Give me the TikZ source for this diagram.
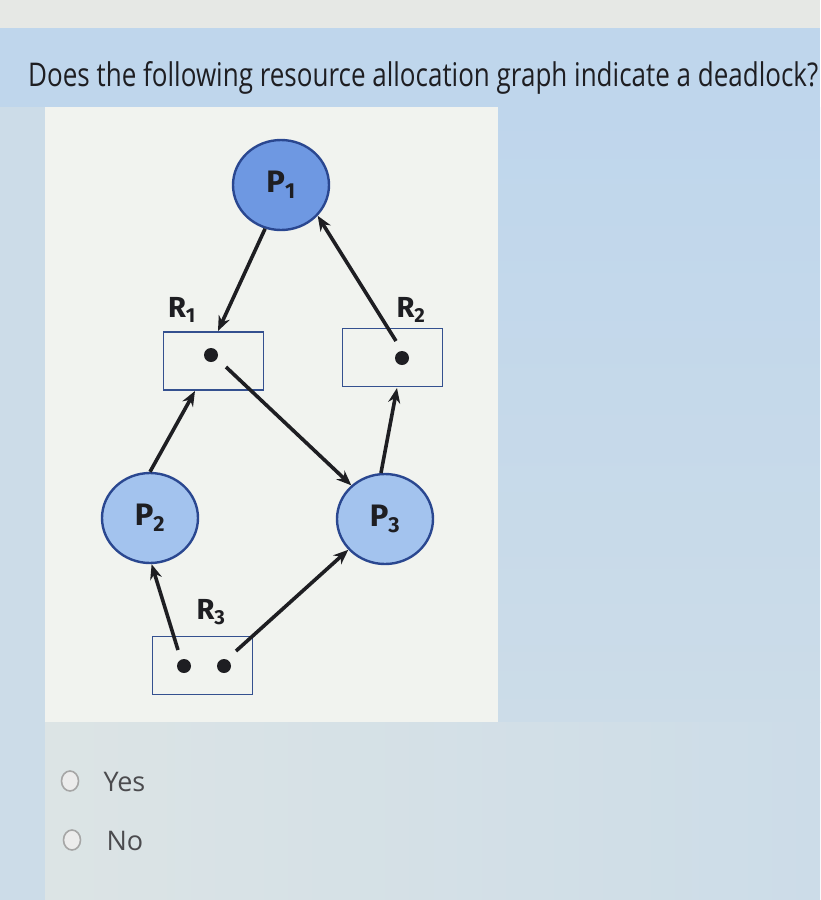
\documentclass[tikz,border=0pt]{standalone}
\usepackage{fontspec}
\usepackage{graphicx}
\setmainfont{Open Sans}
\newfontfamily\labfont{Fira Sans}
\usetikzlibrary{arrows.meta,shapes.geometric}
\definecolor{topgrey}{HTML}{E6E8E5}
\definecolor{bgblue}{HTML}{BFD6EC}
\definecolor{bgmid}{HTML}{CCDCE8}
\definecolor{bglight}{HTML}{DCE4E5}
\definecolor{panel}{HTML}{F1F3EF}
\definecolor{pdark}{HTML}{6E98E2}
\definecolor{plight}{HTML}{A3C3EE}
\definecolor{pborder}{HTML}{2A4790}
\definecolor{ink}{HTML}{1E1E22}
\definecolor{boxedge}{HTML}{34508F}
\tikzset{
  proc/.style={ellipse, draw=pborder, line width=2.4pt, minimum width=96pt, minimum height=90pt, inner sep=0pt, font=\labfont\bfseries\fontsize{31}{31}\selectfont, text=ink},
  resbox/.style={rectangle, draw=boxedge, line width=1.9pt, fill=panel, minimum width=100pt, minimum height=58pt, inner sep=0pt},
  dot/.style={circle, fill=ink, minimum size=14pt, inner sep=0pt},
  rlabel/.style={font=\labfont\bfseries\fontsize{29}{29}\selectfont, text=ink},
  conn/.style={draw=ink, line width=3.6pt, -{Stealth[length=15pt,width=12pt]}},
  radio/.style={ellipse, draw=gray!70, line width=1.6pt, fill=white!85!gray, minimum width=17pt, minimum height=20pt, inner sep=0pt},
  opt/.style={anchor=west, font=\fontsize{27}{27}\selectfont, text=ink!80}
}
\begin{document}
\begin{tikzpicture}[x=1pt,y=-1pt]
\useasboundingbox (0,0) rectangle (820,900);
% backgrounds
\fill[bgblue] (0,0) rectangle (820,900);
\fill[bgmid] (0,107) rectangle (45,900);
\shade[top color=bgblue, bottom color=bgmid] (498,107) rectangle (820,722);
\shade[left color=bglight, right color=bgmid] (45,722) rectangle (820,900);
\fill[topgrey] (0,0) rectangle (820,28);
\fill[panel] (45,107) rectangle (498,722);
% title
\node[anchor=base west, inner sep=0pt, text=ink] (title) at (28,86)
  {\resizebox{790pt}{25pt}{\fontsize{24}{24}\selectfont Does the following resource allocation graph indicate a deadlock?}};
% processes
\node[proc, fill=pdark] (P1) at (281,185) {P\textsubscript{1}};
\node[proc, fill=plight] (P2) at (150,518) {P\textsubscript{2}};
\node[proc, fill=plight] (P3) at (385,519) {P\textsubscript{3}};
% resources
\node[resbox] (R1) at (213.5,361) {};
\node[resbox] (R2) at (392.5,357.5) {};
\node[resbox] (R3) at (202.5,665.5) {};
\node[dot] (d1) at (211,355) {};
\node[dot] (d2) at (402,358) {};
\node[dot] (d3a) at (184,666) {};
\node[dot] (d3b) at (224,666) {};
\node[rlabel] (L1) at (182,310) {R\textsubscript{1}};
\node[rlabel] (L2) at (411,310) {R\textsubscript{2}};
\node[rlabel] (L3) at (211,612) {R\textsubscript{3}};
% start/end points of connectors at resource units
\coordinate (s2) at (396,341);
\coordinate (s1) at (226,367);
\coordinate (s3a) at (178,650);
\coordinate (s3b) at (236,651);
\coordinate (t1) at (218,331);
\coordinate (t1b) at (195,391);
\coordinate (t2) at (397,388);
% connectors
\draw[conn] (P1.250) -- (t1);
\draw[conn] (s2) -- (P1.-40);
\draw[conn] (s1) -- (P3.135);
\draw[conn] (P2.90) -- (t1b);
\draw[conn] (P3.95) -- (t2);
\draw[conn] (s3a) -- (P2.-88);
\draw[conn] (s3b) -- (P3.-140);
% options
\node[radio] (o1) at (70,781) {};
\node[radio] (o2) at (72,840) {};
\node[opt] (yes) at (100,782) {Yes};
\node[opt] (no) at (103,841) {No};
\end{tikzpicture}
\end{document}
